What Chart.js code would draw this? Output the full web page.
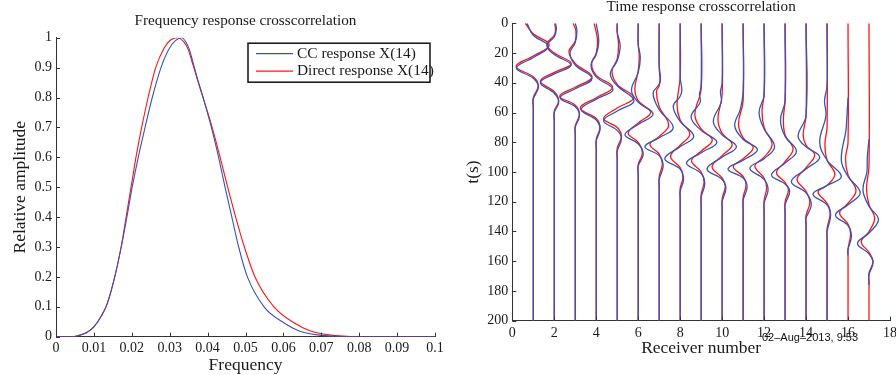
<!DOCTYPE html>
<html>
<head>
<meta charset="utf-8">
<title>Crosscorrelation responses</title>
<script src="https://cdn.jsdelivr.net/npm/chart.js@4.4.0/dist/chart.umd.min.js"></script>
<style>
    html, body { margin: 0; padding: 0; background: #fff; }
    #wrap { position: relative; width: 896px; height: 375px; }
    .pane { position: absolute; top: 0; width: 448px; height: 375px; }
    #left { left: 0; }
    #right { left: 448px; }
</style>
</head>
<body>
<div id="wrap">
    <div class="pane" id="left"><canvas id="freqChart"></canvas></div>
    <div class="pane" id="right"><canvas id="timeChart"></canvas></div>
</div>
<script>
// Frequency response curves
const ccFreq = [0, 0.004, 0.006, 0.008, 0.010, 0.012, 0.0135, 0.0155, 0.0172, 0.0187, 0.0201, 0.0217, 0.0235, 0.0254, 0.0277, 0.0297, 0.0315, 0.0332, 0.0343, 0.0352, 0.0362, 0.0374, 0.0388, 0.041, 0.0429, 0.0446, 0.0464, 0.0482, 0.0505, 0.0549, 0.0603, 0.064, 0.069, 0.076, 0.1];
const ccAmp = [0, 0, 0.004, 0.013, 0.033, 0.07, 0.11, 0.2, 0.3, 0.4, 0.5, 0.6, 0.7, 0.8, 0.9, 0.96, 0.99, 1, 0.985, 0.96, 0.915, 0.86, 0.8, 0.7, 0.6, 0.5, 0.4, 0.3, 0.2, 0.1, 0.045, 0.02, 0.006, 0, 0];
const directFreq = [0, 0.004, 0.006, 0.008, 0.010, 0.012, 0.0135, 0.0155, 0.0172, 0.0185, 0.0198, 0.0211, 0.0226, 0.0243, 0.0263, 0.0285, 0.0303, 0.032, 0.0338, 0.0349, 0.036, 0.0373, 0.0388, 0.0412, 0.0433, 0.0453, 0.0474, 0.0497, 0.0525, 0.0575, 0.063, 0.067, 0.072, 0.08, 0.1];
const directAmp = [0, 0, 0.004, 0.013, 0.033, 0.07, 0.11, 0.2, 0.3, 0.4, 0.5, 0.6, 0.7, 0.8, 0.9, 0.965, 0.993, 1, 0.985, 0.96, 0.915, 0.86, 0.8, 0.7, 0.6, 0.5, 0.4, 0.3, 0.2, 0.1, 0.045, 0.02, 0.006, 0, 0];

const freqTicks = [0, 0.01, 0.02, 0.03, 0.04, 0.05, 0.06, 0.07, 0.08, 0.09, 0.1];
const ampTicks = [0, 0.1, 0.2, 0.3, 0.4, 0.5, 0.6, 0.7, 0.8, 0.9, 1];

// Time response wiggles: [t(s), offset from receiver in receiver units]
const receivers = [1, 2, 3, 4, 5, 6, 7, 8, 9, 10, 11, 12, 13, 14, 15, 16, 17];
const ccTraces = [
    [[0, -0.3], [8, 0], [15.5, 0.72], [23, 0], [30, -0.8], [37, 0], [43, 0.24], [51, 0], [57, 0], [200, 0]],
    [[0, 0.06], [4, 0.1], [9, 0], [15, -0.35], [21, 0], [28, 0.8], [34, 0], [40, -0.66], [47, 0], [53, 0.21], [60, 0], [66, 0], [200, 0]],
    [[0, 0], [5, 0.08], [13, 0], [20, -0.25], [28, 0], [37, 0.8], [44, 0], [50, -0.72], [56, 0], [62, 0.2], [70, 0], [76, 0], [200, 0]],
    [[0, 0], [12, 0.12], [21, 0], [28, -0.25], [36, 0], [44.5, 0.8], [51, 0], [58, -0.72], [65, 0], [71, 0.18], [79, 0], [85, 0], [200, 0]],
    [[0, 0], [6, 0], [15, 0.14], [25, 0], [34, -0.33], [42, 0], [52, 0.8], [59, 0], [65.5, -0.65], [72, 0], [77.5, 0.2], [86, 0], [92, 0], [200, 0]],
    [[0, 0], [14, 0], [23, 0.1], [33, 0], [45, -0.32], [53, 0], [61, 0.71], [68, 0], [75, -0.63], [81, 0], [88, 0.24], [96, 0], [102, 0], [200, 0]],
    [[0, 0], [28, 0], [37, 0.06], [41, 0], [47, -0.29], [58, 0], [70, 0.67], [77, 0], [83, -0.68], [89, 0], [96, 0.19], [105, 0], [111, 0], [200, 0]],
    [[0, 0], [36, 0], [45, 0.08], [49, 0], [56, -0.33], [66, 0], [76, 0.65], [83, 0], [91, -0.73], [98, 0], [105, 0.16], [113, 0], [119, 0], [200, 0]],
    [[0, 0], [42, 0], [48, -0.08], [53, -0.04], [63, -0.48], [72, 0], [80, 0.75], [87, 0], [94, -0.7], [101, 0], [108, 0.17], [117, 0], [123, 0], [200, 0]],
    [[0, 0], [40, 0], [46, -0.08], [53, -0.04], [66, -0.42], [75, 0], [83, 0.68], [90, 0], [98, -0.72], [105, 0], [111, 0.18], [120, 0], [126, 0], [200, 0]],
    [[0, 0], [46, 0], [58, -0.14], [69, -0.4], [78, 0], [85, 0.68], [92, 0], [98, -0.72], [104, 0], [110, 0.19], [119, 0], [125, 0], [200, 0]],
    [[0, 0], [48, 0], [60, -0.24], [71, 0], [83, 0.5], [91, 0], [97.5, -0.68], [105, 0], [112, 0.19], [121, 0], [127, 0], [200, 0]],
    [[0, 0], [52, 0], [65, -0.22], [76, 0], [86, 0.54], [94, 0], [102, -0.65], [108, 0], [113, 0.22], [122, 0], [128, 0], [200, 0]],
    [[0, 0], [62, 0], [76, -0.38], [83, 0], [90, 0.65], [98, 0], [106.5, -0.7], [114, 0], [122, 0.25], [131, 0], [137, 0], [200, 0]],
    [[0, 0], [42, 0], [52, -0.12], [62, -0.05], [80, -0.35], [92, 0], [103, 0.68], [109, 0], [115, -0.67], [122, 0], [129, 0.17], [140, 0], [146, 0], [200, 0]],
    [[50, 0], [64, -0.06], [72, -0.1], [92, -0.32], [103, 0], [114, 0.58], [122, 0], [129, -0.6], [136, 0], [143, 0.16], [152, 0], [156, 0]],
    [[78, 0], [90, -0.08], [100, -0.1], [112, -0.29], [123, 0], [132, 0.45], [141, 0], [148, -0.55], [155, 0], [161, 0.19], [169, 0], [176, 0]]
];
const directTraces = [
    [[0, -0.38], [7, 0], [14.5, 0.76], [22, 0], [29, -0.82], [36, 0], [42, 0.24], [50, 0], [56, 0], [200, 0]],
    [[0, 0.02], [4, 0.06], [8, 0], [14, -0.35], [20, 0], [27, 0.81], [33, 0], [39, -0.66], [46, 0], [52, 0.21], [59, 0], [65, 0], [200, 0]],
    [[0, -0.1], [5, 0.03], [12, 0], [19, -0.3], [27, 0], [36, 0.8], [43, 0], [49, -0.74], [55, 0], [61, 0.2], [69, 0], [75, 0], [200, 0]],
    [[0, -0.1], [11, 0.06], [20, 0], [27, -0.22], [35, 0], [43, 0.78], [50, 0], [57, -0.76], [64, 0], [70, 0.18], [78, 0], [84, 0], [200, 0]],
    [[0, 0], [6, 0], [14, 0.06], [24, 0], [32, -0.25], [41, 0], [50, 0.78], [57, 0], [64, -0.65], [70, 0], [76, 0.2], [84, 0], [90, 0], [200, 0]],
    [[0, 0], [14, 0], [22, 0.05], [32, 0], [44, -0.16], [52, 0], [60, 0.59], [67, 0], [74, -0.48], [80, 0], [87, 0.2], [95, 0], [101, 0], [200, 0]],
    [[0, 0], [30, 0], [38, 0.04], [42, 0], [46, -0.13], [56, 0], [68.5, 0.45], [76, 0], [81.5, -0.44], [88, 0], [94.5, 0.15], [103, 0], [109, 0], [200, 0]],
    [[0, 0], [36, 0], [55, -0.15], [65, 0], [74.5, 0.46], [82, 0], [89.5, -0.46], [97, 0], [103.5, 0.13], [111, 0], [117, 0], [200, 0]],
    [[0, 0], [44, 0], [61.5, -0.3], [71, 0], [78.5, 0.53], [86, 0], [92.5, -0.46], [100, 0], [106.5, 0.14], [115, 0], [121, 0], [200, 0]],
    [[0, 0], [48, 0], [64.5, -0.2], [74, 0], [81.5, 0.48], [89, 0], [96.5, -0.48], [104, 0], [109.5, 0.15], [118, 0], [124, 0], [200, 0]],
    [[0, 0], [52, 0], [67.5, -0.22], [77, 0], [83.5, 0.48], [91, 0], [96.5, -0.47], [103, 0], [108.5, 0.14], [117, 0], [123, 0], [200, 0]],
    [[0, 0], [48, 0], [59, -0.1], [70, 0], [81.5, 0.38], [90, 0], [96, -0.44], [104, 0], [110.5, 0.12], [119, 0], [125, 0], [200, 0]],
    [[0, 0], [52, 0], [64, -0.08], [75, 0], [84.5, 0.38], [93, 0], [100.5, -0.41], [107, 0], [112, 0.16], [120, 0], [126, 0], [200, 0]],
    [[0, 0], [62, 0], [75, -0.14], [82, 0], [88.5, 0.41], [97, 0], [105, -0.43], [113, 0], [120.5, 0.18], [129, 0], [135, 0], [200, 0]],
    [[0, 0], [70, 0], [81, -0.1], [92, 0], [101.5, 0.37], [109, 0], [113.5, -0.43], [121, 0], [127.5, 0.15], [138, 0], [144, 0], [200, 0]],
    [[0, 0], [80, 0], [91, -0.12], [102, 0], [112.5, 0.38], [121, 0], [127.5, -0.4], [135, 0], [141.5, 0.12], [152, 0], [158, 0], [200, 0]],
    [[0, 0], [96, 0], [111, -0.12], [122, 0], [131, 0.27], [140, 0], [147, -0.37], [154, 0], [160, 0.19], [168, 0], [174, 0], [200, 0]]
];

const receiverTicks = [0, 2, 4, 6, 8, 10, 12, 14, 16, 18];
const timeTicks = [0, 20, 40, 60, 80, 100, 120, 140, 160, 180, 200];

const BLUE = '#3553b8';
const RED = '#ff1414';
const AXIS = '#333333';
const INK = '#1a1a1a';
const SERIF = "'Liberation Serif', 'Times New Roman', serif";

// MATLAB style ticks that point into the plot
const innerTicks = {
    id: 'innerTicks',
    afterDatasetsDraw(chart) {
        const { ctx, chartArea: a, scales: { x, y } } = chart;
        ctx.save();
        ctx.strokeStyle = AXIS;
        ctx.lineWidth = 1;
        ctx.beginPath();
        x.ticks.forEach(t => {
            const px = Math.round(x.getPixelForValue(t.value)) + 0.5;
            ctx.moveTo(px, a.bottom);
            ctx.lineTo(px, a.bottom - 4);
        });
        y.ticks.forEach(t => {
            const py = Math.round(y.getPixelForValue(t.value)) + 0.5;
            ctx.moveTo(a.left, py);
            ctx.lineTo(a.left + 4, py);
        });
        ctx.stroke();
        ctx.restore();
    }
};

// Boxed legend inside the upper right corner
const boxLegend = {
    id: 'boxLegend',
    afterDraw(chart) {
        const { ctx, chartArea: a } = chart;
        const left = a.right - 187, top = a.top + 5.5, w = 182, h = 39;
        ctx.save();
        ctx.fillStyle = '#fff';
        ctx.fillRect(left, top, w, h);
        ctx.strokeStyle = '#111';
        ctx.lineWidth = 1.5;
        ctx.strokeRect(left, top, w, h);
        ctx.font = '15.4px ' + SERIF;
        ctx.textBaseline = 'middle';
        chart.data.datasets.forEach((ds, i) => {
            const yy = top + 10.5 + i * 17.4;
            ctx.strokeStyle = ds.borderColor;
            ctx.lineWidth = 1.2;
            ctx.beginPath();
            ctx.moveTo(left + 8, yy);
            ctx.lineTo(left + 45, yy);
            ctx.stroke();
            ctx.fillStyle = INK;
            ctx.fillText(ds.label, left + 49, yy);
        });
        ctx.restore();
    }
};

// Print date stamp under the right plot
const stamp = {
    id: 'stamp',
    afterDraw(chart) {
        const { ctx, chartArea: a } = chart;
        ctx.save();
        ctx.font = '11px "Liberation Sans", Arial, sans-serif';
        ctx.fillStyle = '#111';
        ctx.textBaseline = 'middle';
        ctx.fillText('02–Aug–2013, 9:53', a.right - 128, a.bottom + 17.5);
        ctx.restore();
    }
};

function tickFont() {
    return { family: SERIF, size: 14 };
}

function axisTitle(text, pad) {
    return { display: true, text: text, color: INK, font: { family: SERIF, size: 17.5 }, padding: pad };
}

function fixedTicks(list) {
    return scale => { scale.ticks = list.map(v => ({ value: v })); };
}

// Left: frequency response
new Chart(document.getElementById('freqChart'), {
    type: 'line',
    data: {
        datasets: [
            {
                label: 'CC response X(14)',
                data: ccFreq.map((f, i) => ({ x: f, y: ccAmp[i] })),
                borderColor: BLUE,
                borderWidth: 1.1,
                pointRadius: 0,
                cubicInterpolationMode: 'monotone'
            },
            {
                label: 'Direct response X(14)',
                data: directFreq.map((f, i) => ({ x: f, y: directAmp[i] })),
                borderColor: RED,
                borderWidth: 1.1,
                pointRadius: 0,
                cubicInterpolationMode: 'monotone'
            }
        ]
    },
    options: {
        responsive: true,
        maintainAspectRatio: false,
        animation: false,
        layout: { padding: { top: 0, right: 13, bottom: 0, left: 0 } },
        scales: {
            x: {
                type: 'linear',
                min: 0,
                max: 0.1,
                afterBuildTicks: fixedTicks(freqTicks),
                grid: { display: false, drawTicks: false },
                border: { color: AXIS, width: 1 },
                ticks: { font: tickFont(), color: INK, padding: 3, maxRotation: 0, autoSkip: false, callback: v => String(v) },
                title: axisTitle('Frequency', { top: 0, bottom: -0.5 }),
                afterFit: s => { s.height = 38.3; s.paddingLeft = 0; s.paddingRight = 0; }
            },
            y: {
                type: 'linear',
                min: 0,
                max: 1,
                afterBuildTicks: fixedTicks(ampTicks),
                grid: { display: false, drawTicks: false },
                border: { color: AXIS, width: 1 },
                ticks: { font: tickFont(), color: INK, padding: 4, autoSkip: false, callback: v => String(v) },
                title: axisTitle('Relative amplitude', { top: 9.5, bottom: 0 }),
                afterFit: s => { s.width = 56; s.paddingTop = 0; s.paddingBottom = 0; }
            }
        },
        plugins: {
            legend: { display: false },
            tooltip: { enabled: false },
            title: {
                display: true,
                text: 'Frequency response crosscorrelation',
                fullSize: false,
                color: INK,
                font: { family: SERIF, size: 15.2, weight: 'normal' },
                padding: { top: 11.9, bottom: 7.56 }
            }
        }
    },
    plugins: [innerTicks, boxLegend]
});

// Right: time response wiggles, blue under red
const toPoints = (pts, r) => pts.map(([t, dx]) => ({ x: r + dx, y: t }));
const traceSets = [];
receivers.forEach((r, i) => {
    traceSets.push({ data: toPoints(ccTraces[i], r), borderColor: BLUE, borderWidth: 1.3, pointRadius: 0, tension: 0.4 });
});
receivers.forEach((r, i) => {
    traceSets.push({ data: toPoints(directTraces[i], r), borderColor: RED, borderWidth: 1.3, pointRadius: 0, tension: 0.4 });
});

new Chart(document.getElementById('timeChart'), {
    type: 'line',
    data: { datasets: traceSets },
    options: {
        responsive: true,
        maintainAspectRatio: false,
        animation: false,
        layout: { padding: { top: 0, right: 6, bottom: 0, left: 0 } },
        scales: {
            x: {
                type: 'linear',
                min: 0,
                max: 18,
                afterBuildTicks: fixedTicks(receiverTicks),
                grid: { display: false, drawTicks: false },
                border: { color: AXIS, width: 1 },
                ticks: { font: tickFont(), color: INK, padding: 4, maxRotation: 0, autoSkip: false },
                title: axisTitle('Receiver number', { top: 0, bottom: 16.5 }),
                afterFit: s => { s.height = 54.3; s.paddingLeft = 0; s.paddingRight = 0; }
            },
            y: {
                type: 'linear',
                min: 0,
                max: 200,
                reverse: true,
                afterBuildTicks: fixedTicks(timeTicks),
                grid: { display: false, drawTicks: false },
                border: { color: AXIS, width: 1 },
                ticks: { font: tickFont(), color: INK, padding: 4, autoSkip: false },
                title: axisTitle('t(s)', { top: 14.5, bottom: 0 }),
                afterFit: s => { s.width = 64.3; s.paddingTop = 0; s.paddingBottom = 0; }
            }
        },
        plugins: {
            legend: { display: false },
            tooltip: { enabled: false },
            title: {
                display: true,
                text: 'Time response crosscorrelation',
                fullSize: false,
                color: INK,
                font: { family: SERIF, size: 15.2, weight: 'normal' },
                padding: { top: -2.1, bottom: 7.2 }
            }
        }
    },
    plugins: [innerTicks, stamp]
});
</script>
</body>
</html>
